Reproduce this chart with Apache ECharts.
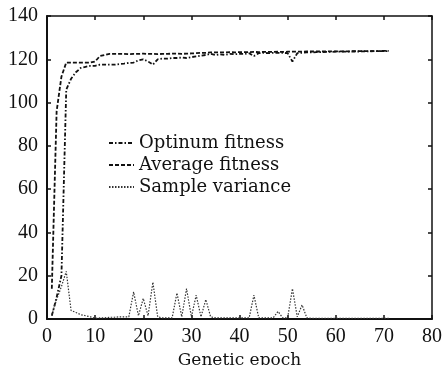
<!DOCTYPE html>
<html>
<head>
<meta charset="utf-8">
<script src="https://cdn.jsdelivr.net/npm/echarts@6/dist/echarts.min.js"></script>
<style>
  html, body { margin: 0; padding: 0; background: #fff; }
  #chart { width: 443px; height: 365px; }
</style>
</head>
<body>
<div id="chart"></div>
<script>
// epochs 1..71
const epochs = [];
for (let i = 1; i <= 71; i++) epochs.push(i);

const optinumFitness = [
  1.5, 10, 20, 106, 111, 114, 116, 116.5, 117, 117,
  117.5, 117.5, 117.5, 117.5, 117.8, 118, 118.3, 118.5, 119.5, 120,
  119, 117.5, 120, 120.3, 120.3, 120.6, 120.6, 120.8, 120.6, 121,
  121.3, 121.7, 122, 122.5, 122, 122.3, 122, 122.5, 122.3, 122.5,
  122.5, 122.8, 121.5, 122.8, 123, 122.8, 123, 123, 123, 122.8,
  119, 122.8, 123, 123.2, 123.2, 123.3, 123.3, 123.4, 123.4, 123.5,
  123.5, 123.5, 123.6, 123.6, 123.6, 123.7, 123.7, 123.8, 123.8, 123.8,
  123.8
];

const averageFitness = [
  14, 96, 112, 118.5, 118.5, 118.5, 118.5, 118.5, 118.5, 119,
  121.5, 122, 122.5, 122.5, 122.5, 122.5, 122.4, 122.5, 122.5, 122.6,
  122.5, 122.5, 122.4, 122.5, 122.5, 122.6, 122.6, 122.5, 122.6, 122.7,
  122.8, 123, 123, 123.2, 123.2, 123.2, 123.2, 123.3, 123.2, 123.3,
  123.3, 123.3, 123.4, 123.3, 123.4, 123.4, 123.4, 123.5, 123.4, 123.5,
  123.5, 123.5, 123.5, 123.6, 123.6, 123.6, 123.6, 123.6, 123.7, 123.7,
  123.7, 123.7, 123.7, 123.8, 123.8, 123.8, 123.8, 123.8, 123.8, 123.9,
  123.9
];

const sampleVariance = [
  2, 9, 15, 22, 4, 3, 2, 1.5, 1, 0.3,
  0.5, 0.5, 0.8, 0.8, 1, 1, 1, 12.5, 1.5, 9.5,
  1.5, 17, 1, 0.5, 0.5, 0.5, 12, 1, 14, 1,
  11, 1, 9, 1, 0.5, 0.5, 0.5, 0.5, 0.5, 0.5,
  0.5, 0.5, 11, 0.5, 0.5, 0.5, 0.5, 3.5, 0.5, 0.5,
  14, 1, 6.5, 0.5, 0.3, 0.3, 0.3, 0.3, 0.3, 0.3,
  0.3, 0.3, 0.3, 0.3, 0.3, 0.3, 0.3, 0.3, 0.3, 0.3,
  0.3
];

const seriesNames = ['Optinum fitness', 'Average fitness', 'Sample variance'];
const xTitle = 'Genetic epoch';

const pairs = (vals) => vals.map((v, i) => [epochs[i], v]);

const tickFont = { fontFamily: 'Liberation Serif', fontSize: 20, color: '#111' };
const textFont = 'DejaVu Serif';

const chart = echarts.init(document.getElementById('chart'));

// 坐标轴公共部分
const axisTick = { show: true, inside: true, length: 4, lineStyle: { color: '#111', width: 1.5 } };
const mainLine = { show: true, onZero: false, lineStyle: { color: '#111', width: 2 } };
const frameLine = { show: true, onZero: false, lineStyle: { color: '#111', width: 1.5 } };

chart.setOption({
  animation: false,
  backgroundColor: '#fff',
  grid: { left: 47, right: 11, top: 16, bottom: 46, outerBoundsMode: 'none', containLabel: false },
  legend: {
    orient: 'vertical',
    left: 103,
    top: 127,
    itemWidth: 25,
    itemHeight: 10,
    itemGap: 0,
    itemStyle: { opacity: 0, borderWidth: 0 },
    textStyle: { fontFamily: textFont, fontSize: 18, color: '#111', lineHeight: 22 },
    data: seriesNames,
  },
  xAxis: [
    {
      type: 'value',
      min: 0,
      max: 80,
      interval: 10,
      position: 'bottom',
      axisLine: mainLine,
      axisTick: axisTick,
      splitLine: { show: false },
      name: xTitle,
      nameLocation: 'middle',
      nameGap: 30,
      nameTextStyle: { fontFamily: textFont, fontSize: 17, color: '#111' },
      axisLabel: { ...tickFont, margin: 8 },
    },
    {
      type: 'value',
      min: 0,
      max: 80,
      interval: 10,
      position: 'top',
      axisLine: frameLine,
      axisTick: axisTick,
      splitLine: { show: false },
      axisLabel: { show: false },
    },
  ],
  yAxis: [
    {
      type: 'value',
      min: 0,
      max: 140,
      interval: 20,
      position: 'left',
      axisLine: mainLine,
      axisTick: axisTick,
      splitLine: { show: false },
      axisLabel: { ...tickFont, margin: 9 },
    },
    {
      type: 'value',
      min: 0,
      max: 140,
      interval: 20,
      position: 'right',
      axisLine: frameLine,
      axisTick: axisTick,
      splitLine: { show: false },
      axisLabel: { show: false },
    },
  ],
  series: [
    {
      name: seriesNames[0],
      type: 'line',
      symbol: 'none',
      data: pairs(optinumFitness),
      lineStyle: { color: '#111', width: 1.8, type: [4, 2, 1.5, 2] },
      itemStyle: { color: '#111' },
    },
    {
      name: seriesNames[1],
      type: 'line',
      symbol: 'none',
      data: pairs(averageFitness),
      lineStyle: { color: '#111', width: 1.8, type: [4, 2] },
      itemStyle: { color: '#111' },
    },
    {
      name: seriesNames[2],
      type: 'line',
      symbol: 'none',
      data: pairs(sampleVariance),
      lineStyle: { color: '#333', width: 1.2, type: [1.5, 1.5] },
      itemStyle: { color: '#333' },
    },
  ],
});
</script>
</body>
</html>
